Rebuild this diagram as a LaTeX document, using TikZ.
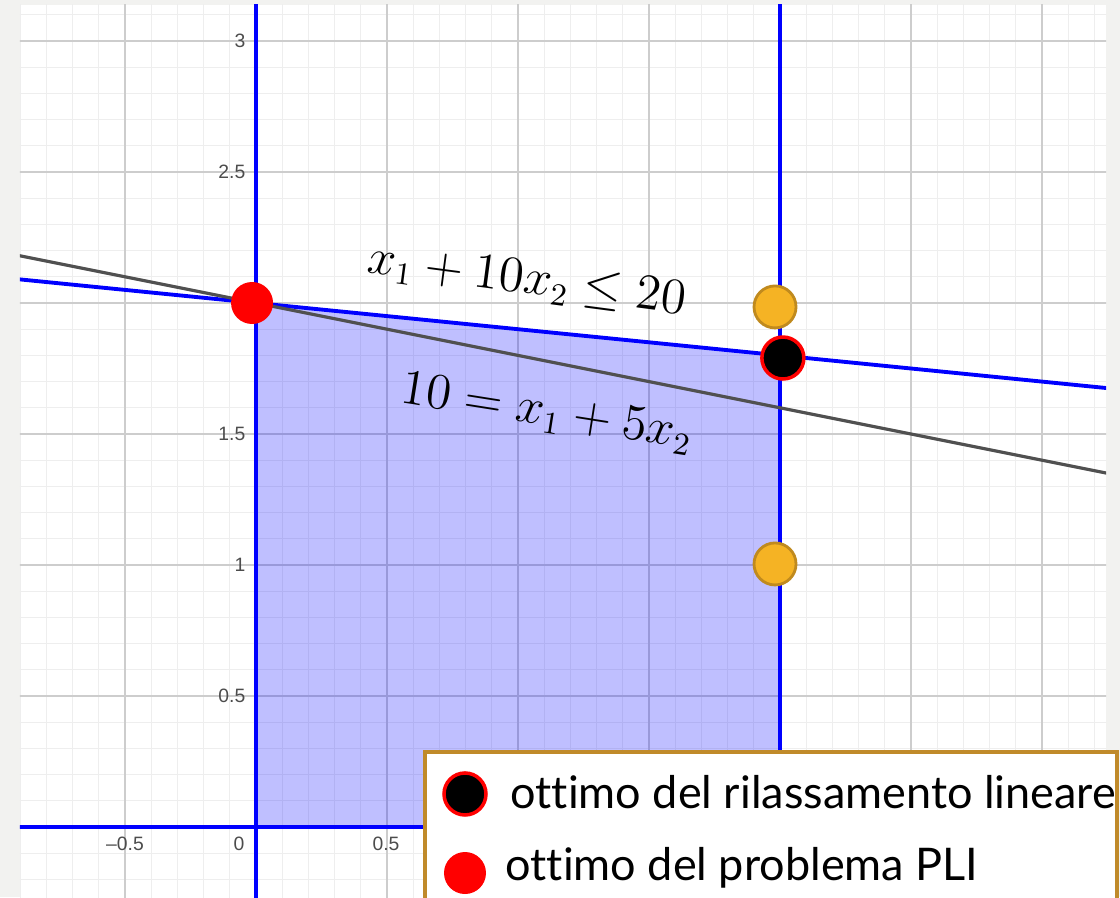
\documentclass[tikz,border=0pt]{standalone}
\usepackage{fontspec}
\newfontfamily\legfont[Ligatures=NoCommon]{Lato}
\newfontfamily\tickfont{Liberation Sans}
\definecolor{bggray}{HTML}{F2F2F0}
\definecolor{minorcol}{HTML}{EEEEEE}
\definecolor{majorcol}{HTML}{CDCDCD}
\definecolor{dotorange}{HTML}{F5B324}
\definecolor{dotrim}{HTML}{C08A1E}
\definecolor{legrim}{HTML}{C08A2A}
\definecolor{linegray}{HTML}{505050}

\begin{document}
\begin{tikzpicture}[x=2.62cm, y=2.62cm,
    minorgrid/.style={draw=minorcol, line width=0.3pt},
    majorgrid/.style={draw=majorcol, line width=0.6pt},
    bound/.style={draw=blue, line width=1.1pt},
    obj/.style={draw=linegray, line width=0.9pt},
    ticklbl/.style={font=\tickfont\fontsize{5.5}{6}\selectfont, text=black!70, inner sep=0pt},
    eqn/.style={font=\fontsize{13.5}{16}\selectfont, inner sep=0pt},
    pdot/.style={circle, minimum size=0.42cm, inner sep=0pt},
    legtxt/.style={font=\legfont\fontsize{12.8}{15}\selectfont, anchor=base west, inner sep=0pt},
  ]
    % Page and plot area
    \useasboundingbox[fill=bggray] (-0.9771,-0.2672) rectangle (3.2977,3.1565);
    \fill[white] (-0.9008,-0.2672) rectangle (3.2443,3.1374);

    \begin{scope}
      \clip (-0.9008,-0.2672) rectangle (3.2443,3.1374);
      % Grid
      \foreach \i in {-9,...,32} \draw[minorgrid] (\i/10,-0.3) -- (\i/10,3.2);
      \foreach \j in {-2,...,31} \draw[minorgrid] (-1,\j/10) -- (3.3,\j/10);
      \foreach \i in {-1,...,6} \draw[majorgrid] (\i/2,-0.3) -- (\i/2,3.2);
      \foreach \j in {0,...,6} \draw[majorgrid] (-1,\j/2) -- (3.3,\j/2);

      % Feasible region
      \fill[blue, fill opacity=0.25] (0,0) -- (0,2) -- (2,1.8) -- (2,0) -- cycle;

      % Constraints and objective
      \draw[bound] (0,-0.3) -- (0,3.2);
      \draw[bound] (2,-0.3) -- (2,3.2);
      \draw[bound] (-1,0) -- (3.3,0);
      \draw[bound] (-1,2.1) -- (3.3,1.67);
      \draw[obj] (-1,2.2) -- (3.3,1.34);
    \end{scope}

    % Axis labels
    \node[ticklbl, anchor=east] (y05) at (-0.038,0.5) {0.5};
    \node[ticklbl, anchor=east] (y1) at (-0.038,1) {1};
    \node[ticklbl, anchor=east] (y15) at (-0.038,1.5) {1.5};
    \node[ticklbl, anchor=east] (y25) at (-0.038,2.5) {2.5};
    \node[ticklbl, anchor=east] (y3) at (-0.038,3) {3};
    \node[ticklbl] (xm05) at (-0.5,-0.065) {\textendash0.5};
    \node[ticklbl] (x0) at (-0.065,-0.065) {0};
    \node[ticklbl] (x05) at (0.496,-0.065) {0.5};

    % Equations
    \node[eqn, rotate=-7.5] (c1) at (1.034,2.084) {$x_1 + 10x_2 \leq 20$};
    \node[eqn, rotate=-9] (c2) at (1.111,1.580) {$10 = x_1 + 5x_2$};

    % Points
    \node[pdot, fill=red] (pli) at (-0.015,2.0) {};
    \node[pdot, fill=black, draw=red, line width=1pt] (rel) at (2.011,1.79) {};
    \node[pdot, fill=dotorange, draw=dotrim, line width=0.8pt] (up) at (1.981,1.985) {};
    \node[pdot, fill=dotorange, draw=dotrim, line width=0.8pt] (low) at (1.981,1.004) {};

    % Legend
    \draw[legrim, fill=white, line width=0.9pt] (0.645,-0.35) rectangle (3.286,0.2863);
    \node[pdot, fill=black, draw=red, line width=1pt] (lrel) at (0.7977,0.1260) {};
    \node[pdot, fill=red] (lpli) at (0.7977,-0.1756) {};
    \node[legtxt] (trel) at (0.9695,0.0725) {ottimo del rilassamento lineare};
    \node[legtxt] (tpli) at (0.9504,-0.2023) {ottimo del problema PLI};
  \end{tikzpicture}
\end{document}
